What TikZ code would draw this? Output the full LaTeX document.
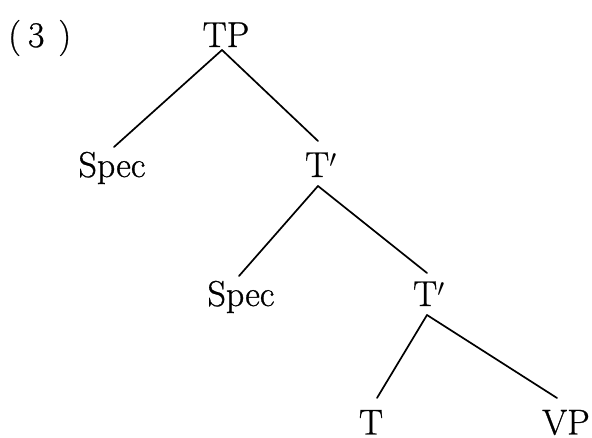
\documentclass[tikz,border=0pt]{standalone}
\usepackage{fontspec}
\newfontfamily\treefont[FakeBold=0.8]{Latin Modern Roman}
\begin{document}
\begin{tikzpicture}[x=1pt,y=1pt,
  lab/.style={inner sep=0pt,font=\treefont\fontsize{36}{40}\selectfont},
  edge/.style={line width=1.7pt,line cap=round}]
\useasboundingbox (0,0) rectangle (592,437);
% y_tikz = 437 - y_img
\node[lab,anchor=base west] (num) at (8,390) {(\hspace{7pt}3\hspace{14pt})};
\node[lab,anchor=base] (TP) at (226,390) {TP};
\node[lab,anchor=base] (S1) at (112,260) {Spec};
\node[lab,anchor=base west] (Tb1) at (305,260) {T$'$};
\node[lab,anchor=base] (S2) at (241,131) {Spec};
\node[lab,anchor=base west] (Tb2) at (413,131) {T$'$};
\node[lab,anchor=base] (T) at (371,2.5) {T};
\node[lab,anchor=base] (VP) at (566,2.5) {VP};
\draw[edge] ([shift={(-4,-3)}]TP.base) -- ([shift={(2,30)}]S1.base);
\draw[edge] ([shift={(-4,-3)}]TP.base) -- ([shift={(13,36)}]Tb1.base west);
\draw[edge] ([shift={(13,-9)}]Tb1.base west) -- ([shift={(-2,30)}]S2.base);
\draw[edge] ([shift={(13,-9)}]Tb1.base west) -- ([shift={(14,33)}]Tb2.base west);
\draw[edge] ([shift={(14,-9)}]Tb2.base west) -- ([shift={(6,36.5)}]T.base);
\draw[edge] ([shift={(14,-9)}]Tb2.base west) -- ([shift={(-9,36.5)}]VP.base);
\end{tikzpicture}
\end{document}
